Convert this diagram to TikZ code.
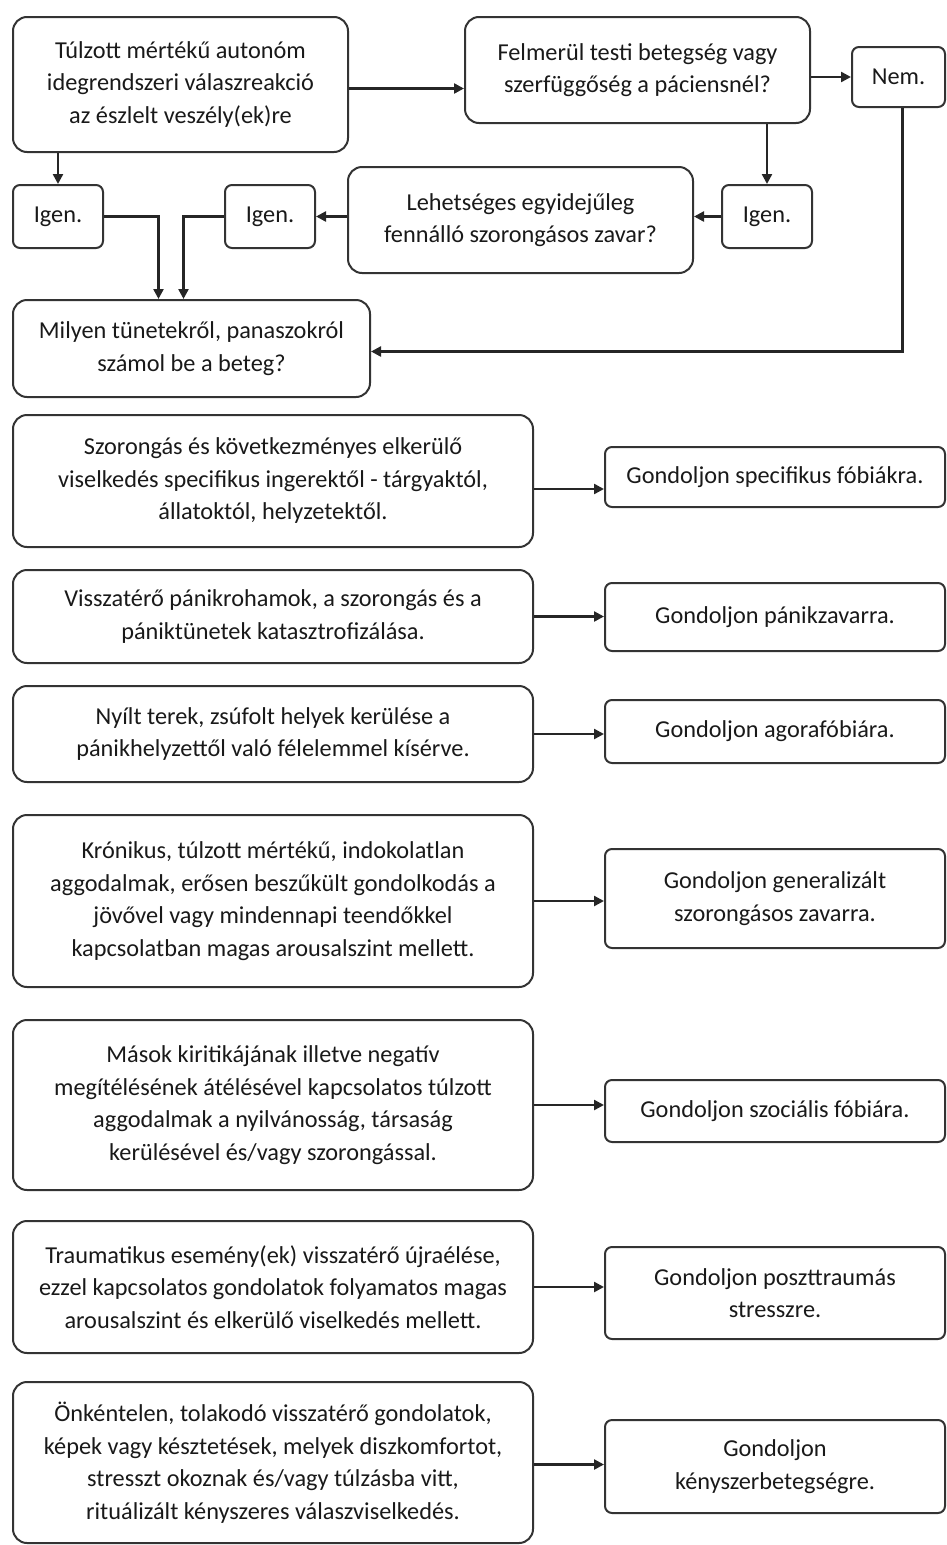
\documentclass[tikz,border=0pt]{standalone}
\usepackage{fontspec}
\setmainfont{Carlito}
\usepackage{tikz}
\usetikzlibrary{arrows.meta}

\begin{document}
\begin{tikzpicture}[x=1pt, y=-1pt,
  every node/.style={font=\fontsize{24.3}{32.5}\selectfont, text=black!90, align=center},
  bigbox/.style={draw=black!80, line width=2pt, rounded corners=14pt, inner sep=0pt},
  smallbox/.style={draw=black!80, line width=2pt, rounded corners=7pt, inner sep=0pt},
  arr/.style={-{Triangle[length=10pt, width=10pt]}, line width=2.4pt, black!85}]
\useasboundingbox (0,0) rectangle (947,1545);

% felso resz
\node[bigbox, minimum width=335pt, minimum height=135pt] (tulzott) at (180.5,84.5)
  {Túlzott mértékű autonóm\\ idegrendszeri válaszreakció\\ az észlelt veszély(ek)re};
\node[bigbox, minimum width=345pt, minimum height=106pt] (felmerul) at (637.5,70)
  {Felmerül testi betegség vagy\\ szerfüggőség a páciensnél?};
\node[smallbox, minimum width=93pt, minimum height=60pt] (nem) at (898.5,77) {Nem.};
\node[smallbox, minimum width=90pt, minimum height=63pt] (igen1) at (58,216.5) {Igen.};
\node[smallbox, minimum width=90pt, minimum height=63pt] (igen2) at (270,216.5) {Igen.};
\node[smallbox, minimum width=90pt, minimum height=63pt] (igen3) at (767,216.5) {Igen.};
\node[bigbox, minimum width=345pt, minimum height=106pt] (lehet) at (520.5,220)
  {Lehetséges egyidejűleg\\ fennálló szorongásos zavar?};
\node[bigbox, minimum width=357pt, minimum height=97pt] (milyen) at (191.5,348.5)
  {Milyen tünetekről, panaszokról\\ számol be a beteg?};

\draw[arr] ([yshift=-4pt]tulzott.east) -- ([yshift=-4pt]tulzott.east -| felmerul.west);
\draw[arr] (nem.west -| felmerul.east) -- (nem.west);
\draw[arr] (igen3.north |- felmerul.south) -- (igen3.north);
\draw[arr] (igen3.west) -- (igen3.west -| lehet.east);
\draw[arr] (lehet.west |- igen2) -- (igen2.east);
\draw[arr] (igen1.north |- tulzott.south) -- (igen1.north);
\draw[arr] (igen1.east) -| ([xshift=-33pt]milyen.north);
\draw[arr] (igen2.west) -| ([xshift=-8pt]milyen.north);
\draw[arr] ([xshift=4pt]nem.south) |- ([yshift=-3pt]milyen.east);

% tunetek es diagnozisok
\node[bigbox, minimum width=520pt, minimum height=132pt] (spec) at (273,481)
  {Szorongás és következményes elkerülő\\ viselkedés specifikus ingerektől - tárgyaktól,\\ állatoktól, helyzetektől.};
\node[smallbox, minimum width=340pt, minimum height=60pt] (specg) at (775,477)
  {Gondoljon specifikus fóbiákra.};
\draw[arr] ([yshift=-8pt]spec.east) -- ([yshift=-8pt]spec.east -| specg.west);

\node[bigbox, minimum width=520pt, minimum height=93pt] (panik) at (273,616.5)
  {Visszatérő pánikrohamok, a szorongás és a\\ pániktünetek katasztrofizálása.};
\node[smallbox, minimum width=340pt, minimum height=68pt] (panikg) at (775,617)
  {Gondoljon pánikzavarra.};
\draw[arr] (panik.east) -- (panik.east -| panikg.west);

\node[bigbox, minimum width=520pt, minimum height=96pt] (agora) at (273,734)
  {Nyílt terek, zsúfolt helyek kerülése a\\ pánikhelyzettől való félelemmel kísérve.};
\node[smallbox, minimum width=340pt, minimum height=63pt] (agorag) at (775,731.5)
  {Gondoljon agorafóbiára.};
\draw[arr] (agora.east) -- (agora.east -| agorag.west);

\node[bigbox, minimum width=520pt, minimum height=172pt] (kron) at (273,901)
  {Krónikus, túlzott mértékű, indokolatlan\\ aggodalmak, erősen beszűkült gondolkodás a\\ jövővel vagy mindennapi teendőkkel\\ kapcsolatban magas arousalszint mellett.};
\node[smallbox, minimum width=340pt, minimum height=99pt] (krong) at (775,898.5)
  {Gondoljon generalizált\\ szorongásos zavarra.};
\draw[arr] (kron.east) -- (kron.east -| krong.west);

\node[bigbox, minimum width=520pt, minimum height=170pt] (masok) at (273,1105)
  {Mások kiritikájának illetve negatív\\ megítélésének átélésével kapcsolatos túlzott\\ aggodalmak a nyilvánosság, társaság\\ kerülésével és/vagy szorongással.};
\node[smallbox, minimum width=340pt, minimum height=62pt] (masokg) at (775,1111)
  {Gondoljon szociális fóbiára.};
\draw[arr] (masok.east) -- (masok.east -| masokg.west);

\node[bigbox, minimum width=520pt, minimum height=132pt] (trauma) at (273,1287)
  {Traumatikus esemény(ek) visszatérő újraélése,\\ ezzel kapcsolatos gondolatok folyamatos magas\\ arousalszint és elkerülő viselkedés mellett.};
\node[smallbox, minimum width=340pt, minimum height=92pt] (traumag) at (775,1293)
  {Gondoljon poszttraumás\\ stresszre.};
\draw[arr] (trauma.east) -- (trauma.east -| traumag.west);

\node[bigbox, minimum width=520pt, minimum height=161pt] (onkent) at (273,1462.5)
  {Önkéntelen, tolakodó visszatérő gondolatok,\\ képek vagy késztetések, melyek diszkomfortot,\\ stresszt okoznak és/vagy túlzásba vitt,\\ rituálizált kényszeres válaszviselkedés.};
\node[smallbox, minimum width=340pt, minimum height=93pt] (onkentg) at (775,1466.5)
  {Gondoljon\\ kényszerbetegségre.};
\draw[arr] ([yshift=-2pt]onkent.east) -- ([yshift=-2pt]onkent.east -| onkentg.west);
\end{tikzpicture}
\end{document}
